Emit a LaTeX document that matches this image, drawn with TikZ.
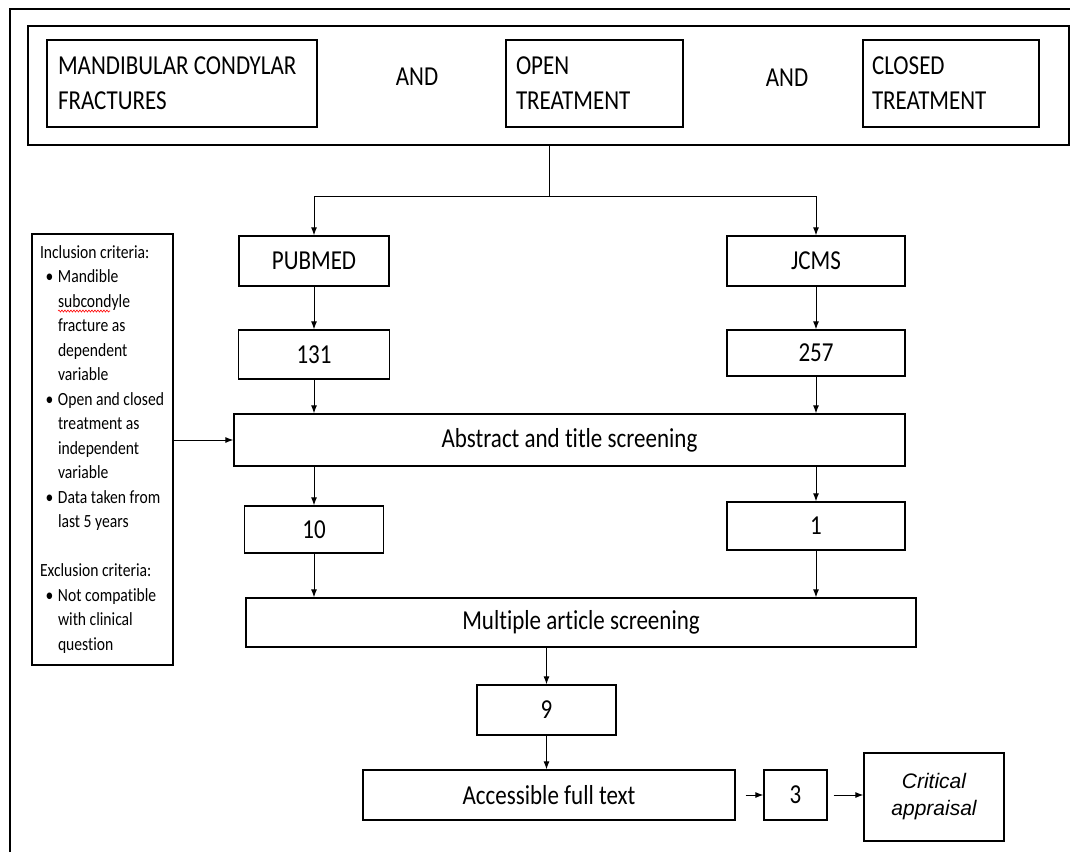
\documentclass[tikz,border=0pt]{standalone}
\usepackage{fontspec}
\setmainfont{Carlito}[FakeStretch=0.84, Ligatures={NoCommon}]
\newfontfamily\arialfont{Liberation Sans}
\usetikzlibrary{positioning,arrows.meta,decorations.pathmorphing}

\newcommand{\itm}[1]{\hspace*{9pt}\makebox[12.5pt][l]{\textbullet}#1}
\newcommand{\cnt}[1]{\hspace*{21.5pt}#1}
\newcommand{\hdr}[1]{\hspace*{3.5pt}#1}

\begin{document}
\begin{tikzpicture}[x=1pt, y=-1pt, font=\fontsize{27.4}{35}\selectfont]
    \tikzstyle{box}=[rectangle, draw=black!100, line width=1.3pt, inner sep=0pt]
    \tikzstyle{connect}=[-{Latex[length=8pt,width=6pt]}, line width=1pt]
    \tikzstyle{link}=[line width=1pt]

      \useasboundingbox (0,0) rectangle (1070,852);
      \draw[line width=1.3pt] (10,852) -- (10,9) -- (1070,9);

      % search terms
      \node[box, minimum width=1041pt, minimum height=119pt] (search) at (548.5,85.5) {};
      \node[box, minimum width=270pt, minimum height=87pt, text width=248pt, align=flush left] (mandible) at (182,83.5) {MANDIBULAR CONDYLAR\\FRACTURES};
      \node[] (and1) at (417,77) {AND};
      \node[box, minimum width=177pt, minimum height=87pt, text width=157pt, align=flush left] (open) at (594.5,83.5) {OPEN\\TREATMENT};
      \node[] (and2) at (787,78) {AND};
      \node[box, minimum width=176pt, minimum height=87pt, text width=158pt, align=flush left] (closed) at (951,83.5) {CLOSED\\TREATMENT};

      % databases
      \node[box, minimum width=150pt, minimum height=50pt] (pubmed) at (314,261) {PUBMED};
      \node[box, minimum width=178pt, minimum height=50pt] (jcms) at (816,261) {JCMS};
      \node[box, minimum width=151pt, minimum height=49pt] (n131) at (314,354.5) {131};
      \node[box, minimum width=178pt, minimum height=46pt] (n257) at (816,353) {257};
      \node[box, minimum width=671pt, minimum height=52pt] (abstract) at (569.5,440) {Abstract and title screening};
      \node[box, minimum width=139pt, minimum height=47pt] (n10) at (314,529.5) {10};
      \node[box, minimum width=178pt, minimum height=48pt] (n1) at (816,526) {1};
      \node[box, minimum width=670pt, minimum height=49pt] (multiple) at (581,622.5) {Multiple article screening};
      \node[box, minimum width=139pt, minimum height=50pt] (n9) at (546.5,710) {9};
      \node[box, minimum width=372pt, minimum height=50pt] (fulltext) at (549,795) {Accessible full text};
      \node[box, minimum width=63pt, minimum height=50pt] (n3) at (795.5,795) {3};
      \node[box, minimum width=140pt, minimum height=88pt, align=center, font=\arialfont\itshape\fontsize{21}{27}\selectfont] (appraisal) at (934,797) {Critical\\appraisal};

      % criteria
      \node[box, minimum width=141pt, minimum height=431pt, text width=132pt, align=flush left, font=\fontsize{18.6}{24.5}\selectfont] (criteria) at (102.5,449.5) {\hdr{\makebox[125pt][l]{Inclusion criteria:}}\\
        \itm{Mandible}\\ \cnt{subcondyle}\\ \cnt{fracture as}\\ \cnt{dependent}\\ \cnt{variable}\\
        \itm{Open and closed}\\ \cnt{treatment as}\\ \cnt{independent}\\ \cnt{variable}\\
        \itm{Data taken from}\\ \cnt{last 5 years}\\[24.5pt]
        \hdr{Exclusion criteria:}\\
        \itm{Not compatible}\\ \cnt{with clinical}\\ \cnt{question}};
      \draw[red, line width=0.6pt, decorate, decoration={snake, amplitude=1pt, segment length=3pt}] (58,311) -- (110,311);

      \coordinate (split) at (549,196);
      \draw[link] (search.south -| split) -- (split);
      \draw[connect] (split) -| (pubmed.north);
      \draw[connect] (split) -| (jcms.north);
      \path
        (pubmed) edge [connect] (n131)
        (jcms) edge [connect] (n257)
        (n131.south) edge [connect] (n131.south |- abstract.north)
        (n257.south) edge [connect] (n257.south |- abstract.north)
        (n10.north |- abstract.south) edge [connect] (n10.north)
        (n1.north |- abstract.south) edge [connect] (n1.north)
        (n10.south) edge [connect] (n10.south |- multiple.north)
        (n1.south) edge [connect] (n1.south |- multiple.north)
        (n9.north |- multiple.south) edge [connect] (n9.north)
        (n9.south) edge [connect] (n9.south |- fulltext.north)
        (fulltext) edge [connect, shorten <=10pt] (n3)
        (n3.east) edge [connect, shorten <=6pt] (n3.east -| appraisal.west)
        (criteria.east |- abstract.west) edge [connect] (abstract.west);
    \end{tikzpicture}
\end{document}
